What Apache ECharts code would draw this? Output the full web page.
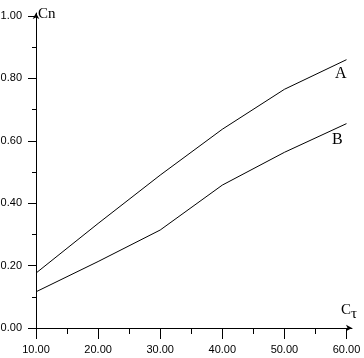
<!DOCTYPE html>
<html><head><meta charset="utf-8">
<script src="https://cdn.jsdelivr.net/npm/echarts@6/dist/echarts.min.js"></script>
<style>html,body{margin:0;padding:0;background:#fff}#c{width:364px;height:358px}</style>
</head><body><div id="c"></div>
<script>
const xValues = [10, 20, 30, 40, 50, 60];
const seriesA = [0.176, 0.335, 0.49, 0.637, 0.765, 0.86];
const seriesB = [0.116, 0.213, 0.314, 0.458, 0.563, 0.655];
const xTicks = [10, 20, 30, 40, 50, 60];
const xMinorTicks = [15, 25, 35, 45, 55];
const yTicks = [0, 0.2, 0.4, 0.6, 0.8, 1.0];
const yMinorTicks = [0.1, 0.3, 0.5, 0.7, 0.9];
const seriesNames = ['A', 'B'];

const labelFont = {color: '#000', fontFamily: "'Liberation Sans', Arial, sans-serif", fontSize: 11};
const X_MAX = 60.886, Y_MAX = 1.0096;

const chart = echarts.init(document.getElementById('c'), null, {renderer: 'canvas'});
chart.setOption({
  animation: false,
  backgroundColor: '#fff',
  grid: {left: 36, right: 12, top: 13, bottom: 30, containLabel: false, outerBoundsMode: 'none'},
  xAxis: [{
    type: 'value', min: 10, max: X_MAX, position: 'bottom',
    axisLine: {show: true, onZero: false, symbol: ['none', 'arrow'], symbolSize: [5, 6], lineStyle: {color: '#000', width: 1}},
    axisTick: {show: true, customValues: xTicks, length: 11, lineStyle: {color: '#000'}},
    axisLabel: Object.assign({customValues: xTicks, margin: 16, formatter: v => v.toFixed(2)}, labelFont),
    splitLine: {show: false}
  }, {
    type: 'value', min: 10, max: X_MAX, position: 'bottom', offset: 0,
    axisLine: {show: false},
    axisTick: {show: true, customValues: xMinorTicks, length: 6, lineStyle: {color: '#000'}},
    axisLabel: {show: false},
    splitLine: {show: false}
  }],
  yAxis: [{
    type: 'value', min: 0, max: Y_MAX, position: 'left',
    axisLine: {show: true, onZero: false, symbol: ['none', 'arrow'], symbolSize: [5, 6], lineStyle: {color: '#000', width: 1}},
    axisTick: {show: true, customValues: yTicks, length: 8, lineStyle: {color: '#000'}},
    axisLabel: Object.assign({customValues: yTicks, margin: 14, formatter: v => v.toFixed(2)}, labelFont),
    splitLine: {show: false}
  }, {
    type: 'value', min: 0, max: Y_MAX, position: 'left', offset: 0,
    axisLine: {show: false},
    axisTick: {show: true, customValues: yMinorTicks, length: 4, lineStyle: {color: '#000'}},
    axisLabel: {show: false},
    splitLine: {show: false}
  }],
  graphic: [
    {type: 'text', left: 38, top: 7, style: {text: 'Cn', font: "15px 'Liberation Serif', serif", fill: '#000'}},
    {type: 'text', left: 341, top: 303, style: {text: 'C', font: "15px 'Liberation Serif', serif", fill: '#000'}},
    {type: 'text', left: 351, top: 307, style: {text: 'τ', font: "15px 'Liberation Serif', serif", fill: '#000'}},
    {type: 'text', left: 335, top: 66, style: {text: seriesNames[0], font: "16px 'Liberation Serif', serif", fill: '#000'}},
    {type: 'text', left: 332, top: 132, style: {text: seriesNames[1], font: "16px 'Liberation Serif', serif", fill: '#000'}}
  ],
  series: [
    {name: seriesNames[0], type: 'line', xAxisIndex: 0, yAxisIndex: 0, showSymbol: false, symbol: 'none',
     lineStyle: {color: '#000', width: 1}, data: xValues.map((x, i) => [x, seriesA[i]])},
    {name: seriesNames[1], type: 'line', xAxisIndex: 0, yAxisIndex: 0, showSymbol: false, symbol: 'none',
     lineStyle: {color: '#000', width: 1}, data: xValues.map((x, i) => [x, seriesB[i]])}
  ]
});
</script>
</body></html>
